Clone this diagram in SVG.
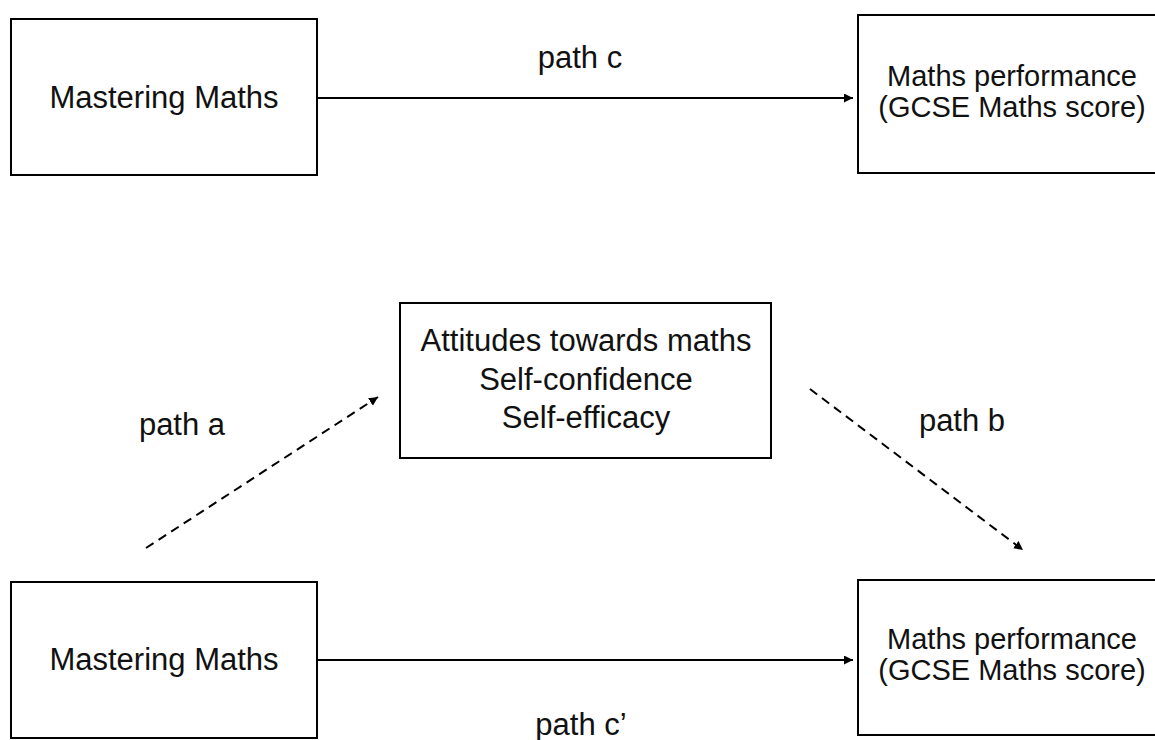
<svg xmlns="http://www.w3.org/2000/svg" width="1155" height="740" viewBox="0 0 1155 740">
<style>
.box{fill:#fff;stroke:#000;stroke-width:2}
.t{font-family:"Liberation Sans",Arial,sans-serif;font-size:31px;fill:#111;text-anchor:middle}
.p{font-size:29px}
.solid{stroke:#000;stroke-width:2;fill:none}
.dash{stroke:#000;stroke-width:2;fill:none;stroke-dasharray:9 6}
</style>
<defs>
<marker id="ah" markerUnits="userSpaceOnUse" markerWidth="10" markerHeight="10" refX="9" refY="4.5" orient="auto">
<path d="M0,0 L9,4.5 L0,9 z" fill="#000"/>
</marker>
</defs>
<rect width="1155" height="740" fill="#fff"/>
<g id="connectors">
<line class="solid" x1="317" y1="98" x2="853" y2="98" marker-end="url(#ah)"/>
<line class="solid" x1="317" y1="660" x2="853" y2="660" marker-end="url(#ah)"/>
<line class="dash" x1="146" y1="548" x2="378" y2="397" marker-end="url(#ah)"/>
<line class="dash" x1="810" y1="389" x2="1023" y2="550" marker-end="url(#ah)"/>
<text class="t" x="580" y="68">path c</text>
<text class="t" x="581" y="735">path c’</text>
<text class="t" x="182" y="435">path a</text>
<text class="t" x="962" y="431">path b</text>
</g>
<g id="mm-top">
<rect class="box" x="11" y="19" width="306" height="156"/>
<text class="t" x="164" y="108">Mastering Maths</text>
</g>
<g id="perf-top">
<rect class="box" x="858" y="15" width="320" height="158"/>
<text class="t p" x="1012" y="86">Maths performance</text>
<text class="t p" x="1012" y="117">(GCSE Maths score)</text>
</g>
<g id="attitudes">
<rect class="box" x="400" y="303" width="371" height="155"/>
<text class="t" x="586" y="351">Attitudes towards maths</text>
<text class="t" x="586" y="390">Self-confidence</text>
<text class="t" x="586" y="428">Self-efficacy</text>
</g>
<g id="mm-bottom">
<rect class="box" x="11" y="582" width="306" height="156"/>
<text class="t" x="164" y="670">Mastering Maths</text>
</g>
<g id="perf-bottom">
<rect class="box" x="858" y="580" width="320" height="155"/>
<text class="t p" x="1012" y="649">Maths performance</text>
<text class="t p" x="1012" y="680">(GCSE Maths score)</text>
</g>
</svg>
